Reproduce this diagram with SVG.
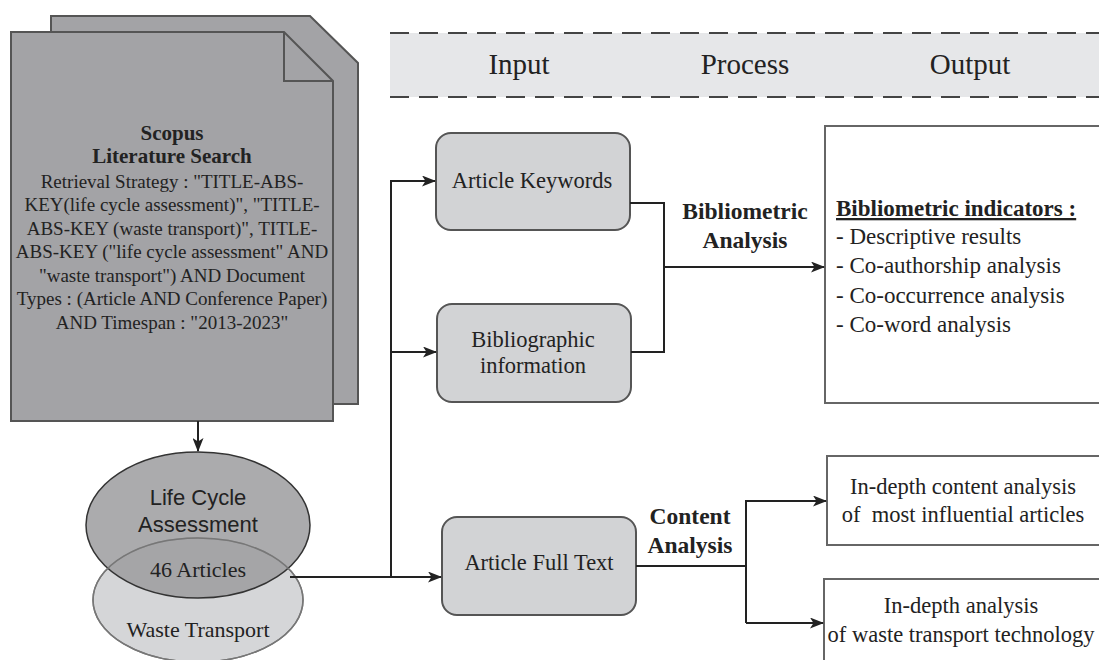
<svg xmlns="http://www.w3.org/2000/svg" width="1099" height="660" viewBox="0 0 1099 660">
<defs>
<style>
.serif{font-family:"Liberation Serif","Times New Roman",serif;fill:#222;}
.sans{font-family:"Liberation Sans",Arial,sans-serif;fill:#222;}
.b{font-weight:bold;}
.doc{fill:#a3a3a6;stroke:#555;stroke-width:2;}
.box{fill:#d2d3d5;stroke:#555;stroke-width:2;}
.out{fill:#fff;stroke:#666;stroke-width:2;}
.conn{fill:none;stroke:#222;stroke-width:2;}
.dash{stroke:#444;stroke-width:2;stroke-dasharray:19 10;}
</style>
<marker id="arr" viewBox="0 0 14 11" refX="13" refY="5.5" markerWidth="14" markerHeight="11" markerUnits="userSpaceOnUse" orient="auto">
<path d="M0,0 L14,5.5 L0,11 L3.5,5.5 Z" fill="#222"/>
</marker>
</defs>

<g id="header">
<rect x="390" y="33" width="709" height="64" fill="#e6e7e9"/>
<line class="dash" x1="390" y1="33" x2="1099" y2="33"/>
<line class="dash" x1="390" y1="97" x2="1099" y2="97"/>
<text class="serif" x="519" y="74" font-size="29" text-anchor="middle">Input</text>
<text class="serif" x="745" y="74" font-size="29" text-anchor="middle">Process</text>
<text class="serif" x="970" y="74" font-size="29" text-anchor="middle">Output</text>
</g>

<g id="scopus">
<path class="doc" d="M51,16 L310,16 L358,63 L358,404 L51,404 Z"/>
<path class="doc" d="M11,32 L284,32 L333,81 L333,421 L11,421 Z"/>
<path d="M284,32 L284,81 L333,81" fill="none" stroke="#555" stroke-width="2"/>
<g class="serif" font-size="19" text-anchor="middle">
<text x="172" y="140" class="b" font-size="21">Scopus</text>
<text x="172" y="163" class="b" font-size="21">Literature Search</text>
<text x="172" y="188">Retrieval Strategy : "TITLE-ABS-</text>
<text x="172" y="211">KEY(life cycle assessment)", "TITLE-</text>
<text x="172" y="235">ABS-KEY (waste transport)", TITLE-</text>
<text x="172" y="258">ABS-KEY ("life cycle assessment" AND</text>
<text x="172" y="282">"waste transport") AND Document</text>
<text x="172" y="305">Types : (Article AND Conference Paper)</text>
<text x="172" y="329">AND Timespan : "2013-2023"</text>
</g>
</g>

<g id="venn">
<ellipse cx="198" cy="600" rx="105" ry="62" fill="#d5d6d8" stroke="#777" stroke-width="1.5"/>
<ellipse cx="198" cy="525" rx="112" ry="73" fill="#9c9c9f" fill-opacity="0.85" stroke="#333" stroke-width="1.5"/>
<ellipse cx="198" cy="600" rx="105" ry="62" fill="none" stroke="#777" stroke-width="1.5"/>
<text class="sans" x="198" y="505" font-size="22" text-anchor="middle">Life Cycle</text>
<text class="sans" x="198" y="532" font-size="22" text-anchor="middle">Assessment</text>
<text class="serif" x="198" y="577" font-size="22" text-anchor="middle">46 Articles</text>
<text class="serif" x="198" y="637" font-size="22" text-anchor="middle">Waste Transport</text>
</g>

<g id="kw">
<rect class="box" x="436" y="133" width="194" height="97" rx="15"/>
<text class="serif" x="532" y="188" font-size="22.5" text-anchor="middle">Article Keywords</text>
</g>
<g id="bib">
<rect class="box" x="437" y="304" width="194" height="98" rx="15"/>
<text class="serif" x="533" y="347" font-size="22.5" text-anchor="middle">Bibliographic</text>
<text class="serif" x="533" y="373" font-size="22.5" text-anchor="middle">information</text>
</g>
<g id="full">
<rect class="box" x="442" y="517" width="194" height="98" rx="15"/>
<text class="serif" x="539" y="570" font-size="22.5" text-anchor="middle">Article Full Text</text>
</g>

<g id="indicators">
<rect class="out" x="825" y="126" width="290" height="277"/>
<g class="serif" font-size="23">
<text x="836" y="216" class="b" text-decoration="underline">Bibliometric indicators :</text>
<text x="836" y="244">- Descriptive results</text>
<text x="836" y="273">- Co-authorship analysis</text>
<text x="836" y="303">- Co-occurrence analysis</text>
<text x="836" y="332">- Co-word analysis</text>
</g>
</g>
<g id="out1">
<rect class="out" x="827" y="456" width="290" height="89"/>
<text class="serif" x="963" y="494" font-size="22.5" text-anchor="middle">In-depth content analysis</text>
<text class="serif" x="963" y="522" font-size="22.5" text-anchor="middle" xml:space="preserve">of  most influential articles</text>
</g>
<g id="out2">
<rect class="out" x="824" y="579" width="290" height="95"/>
<text class="serif" x="961" y="613" font-size="22.5" text-anchor="middle">In-depth analysis</text>
<text class="serif" x="961" y="642" font-size="22.5" text-anchor="middle">of waste transport technology</text>
</g>

<g id="labels">
<text class="serif b" x="745" y="219" font-size="23.5" text-anchor="middle">Bibliometric</text>
<text class="serif b" x="745" y="248" font-size="23.5" text-anchor="middle">Analysis</text>
<text class="serif b" x="690" y="524" font-size="23.5" text-anchor="middle">Content</text>
<text class="serif b" x="690" y="553" font-size="23.5" text-anchor="middle">Analysis</text>
</g>

<g id="connectors">
<line class="conn" x1="198" y1="421" x2="198" y2="451" marker-end="url(#arr)"/>
<polyline class="conn" points="290,577 441,577" marker-end="url(#arr)"/>
<polyline class="conn" points="391,577 391,181 435,181" marker-end="url(#arr)"/>
<polyline class="conn" points="391,352 436,352" marker-end="url(#arr)"/>
<polyline class="conn" points="630,203 664,203 664,352 631,352"/>
<polyline class="conn" points="664,267 824,267" marker-end="url(#arr)"/>
<polyline class="conn" points="636,566 746,566"/>
<polyline class="conn" points="746,623 746,501 826,501" marker-end="url(#arr)"/>
<polyline class="conn" points="746,623 823,623" marker-end="url(#arr)"/>
</g>
</svg>
